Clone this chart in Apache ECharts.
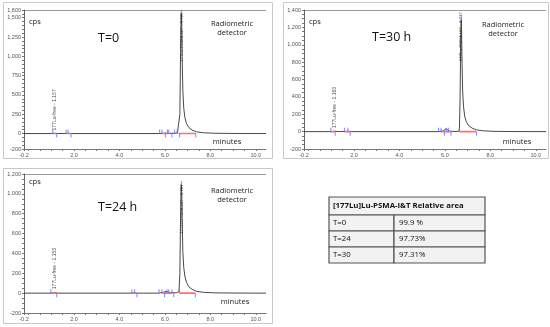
<!DOCTYPE html>
<html><head><meta charset="utf-8">
<script src="https://cdn.jsdelivr.net/npm/echarts@6/dist/echarts.min.js"></script>
<style>html,body{margin:0;padding:0;background:#fff}#c{width:550px;height:327px}</style>
</head><body><div id="c"></div>
<script>
// ---------- DATA ----------
// Panel A: T=0
const t0Time = [-0.2, 1.0, 1.1, 1.157, 1.25, 1.6, 1.75, 1.9, 5.7, 5.9, 6.05, 6.2, 6.4, 6.55, 6.62, 6.66, 6.69, 6.71, 6.725, 6.74, 6.76, 6.79, 6.83, 6.88, 6.95, 7.05, 7.2, 7.4, 7.7, 8.2, 9.0, 10.45];
const t0Cps  = [0, 0, 2, 6, 1, 0, 3, 0, 0, 3, 5, 2, 4, 6, 20, 250, 1050, 1480, 1550, 1380, 980, 560, 330, 210, 130, 80, 45, 22, 10, 4, 1, 0];
const t0MarksUp = [1.07, 1.65, 1.74, 5.77, 5.87, 6.11, 6.17, 6.43, 6.54];
const t0MarksDown = [1.24, 1.87, 6.02, 6.31, 6.65, 7.36];
const t0Red = [[1.07, 1.24], [1.65, 1.87], [5.87, 6.17], [6.6, 7.36]];
const t0FreeLabel = '177Lu-free - 1.157';
const t0FreeTime = 1.157;
const t0PeakLabel = '177Lu-PSMA-I&T - 6.723';
const t0PeakTime = 6.725;
const t0PeakCps = 1550;

// Panel B: T=30 h
const t30Time = [-0.2, 1.0, 1.163, 1.3, 1.65, 1.75, 1.9, 5.7, 5.85, 5.95, 6.05, 6.12, 6.2, 6.4, 6.6, 6.64, 6.67, 6.70, 6.717, 6.735, 6.755, 6.78, 6.82, 6.87, 6.94, 7.04, 7.2, 7.4, 7.7, 8.2, 9.0, 10.45];
const t30Cps  = [0, 0, 5, 0, 2, 3, 0, 0, 5, 12, 35, 15, 4, 2, 3, 30, 400, 1150, 1290, 1150, 800, 480, 290, 180, 115, 70, 40, 20, 9, 3, 1, 0];
const t30MarksUp = [0.98, 1.58, 1.73, 5.72, 5.83, 6.06, 6.17, 6.64];
const t30MarksDown = [1.17, 1.83, 5.98, 6.27, 7.39];
const t30Red = [[0.98, 1.17], [1.58, 1.83], [5.83, 6.27], [6.64, 7.39]];
const t30FreeLabel = '177Lu-free - 1.163';
const t30FreeTime = 1.163;
const t30PeakLabel = '177Lu-PSMA-I&T - 6.717';
const t30PeakTime = 6.717;
const t30PeakCps = 1290;

// Panel C: T=24 h
const t24Time = [-0.2, 1.0, 1.153, 1.3, 4.5, 4.6, 4.75, 5.7, 5.9, 6.05, 6.15, 6.3, 6.5, 6.62, 6.66, 6.69, 6.71, 6.727, 6.745, 6.765, 6.79, 6.83, 6.88, 6.95, 7.05, 7.2, 7.4, 7.7, 8.2, 9.0, 10.45];
const t24Cps  = [0, 0, 4, 0, 0, 3, 0, 0, 6, 18, 10, 5, 3, 15, 200, 750, 1020, 1090, 950, 680, 420, 260, 170, 110, 65, 38, 18, 8, 3, 1, 0];
const t24MarksUp = [0.98, 4.55, 4.67, 5.74, 5.87, 6.09, 6.17, 6.31, 6.64];
const t24MarksDown = [1.24, 4.77, 5.99, 6.39, 7.34];
const t24Red = [[0.98, 1.24], [4.55, 4.77], [5.87, 6.31], [6.64, 7.34]];
const t24FreeLabel = '177Lu-free - 1.153';
const t24FreeTime = 1.153;
const t24PeakLabel = '177Lu-PSMA-I&T - 6.727';
const t24PeakTime = 6.727;
const t24PeakCps = 1090;

// Axis ticks
const xTickLabels = [-0.2, 2.0, 4.0, 6.0, 8.0, 10.0];
const yLabelsA = [-200, 0, 250, 500, 750, 1000, 1250, 1500, 1600];
const yLabelsB = [-200, 0, 200, 400, 600, 800, 1000, 1200, 1400];
const yLabelsC = [-200, 0, 200, 400, 600, 800, 1000, 1200];

// Table
const tableHeader = '[177Lu]Lu-PSMA-I&T Relative area';
const tableRows = ['T=0', 'T=24', 'T=30'];
const tableValues = ['99.9 %', '97.73%', '97.31%'];

// Panel titles
const panelTitles = ['T=0', 'T=30 h', 'T=24 h'];

// ---------- LAYOUT ----------
const panels = [
  {time: t0Time, cps: t0Cps, up: t0MarksUp, down: t0MarksDown, red: t0Red, free: t0FreeLabel, freeT: t0FreeTime, peak: t0PeakLabel, peakT: t0PeakTime, peakC: t0PeakCps, ylab: yLabelsA, ymax: 1600,
   grid: {left: 24, top: 10, width: 242, height: 139}, box: [3, 2, 269, 156], peakLabelBase: 930, freeBase: 40},
  {time: t30Time, cps: t30Cps, up: t30MarksUp, down: t30MarksDown, red: t30Red, free: t30FreeLabel, freeT: t30FreeTime, peak: t30PeakLabel, peakT: t30PeakTime, peakC: t30PeakCps, ylab: yLabelsB, ymax: 1400,
   grid: {left: 304, top: 10, width: 242, height: 139}, box: [283, 2, 265, 156], peakLabelBase: 810, freeBase: 40},
  {time: t24Time, cps: t24Cps, up: t24MarksUp, down: t24MarksDown, red: t24Red, free: t24FreeLabel, freeT: t24FreeTime, peak: t24PeakLabel, peakT: t24PeakTime, peakC: t24PeakCps, ylab: yLabelsC, ymax: 1200,
   grid: {left: 24, top: 174, width: 242, height: 139}, box: [3, 168, 269, 155], peakLabelBase: 600, freeBase: 40}
];

const AX = '#555';
const FONT = 'Liberation Sans';
const TFONT = 'Open Sans';

const grids = [], xAxes = [], yAxes = [], series = [], graphics = [];
const xTicks = [-0.2];
for (let v = 0; v <= 10.01; v += 0.5) xTicks.push(Math.round(v * 10) / 10);

panels.forEach((p, i) => {
  grids.push(Object.assign({show: false}, p.grid));
  xAxes.push({
    type: 'value', gridIndex: i, min: -0.2, max: 10.45,
    axisLine: {show: true, onZero: false, lineStyle: {color: '#777', width: 1}},
    axisTick: {show: true, length: 2, customValues: xTicks, lineStyle: {color: '#777'}},
    axisLabel: {show: true, customValues: xTickLabels, fontSize: 5.5, color: AX, fontFamily: FONT, margin: 3,
      formatter: v => v.toFixed(1)},
    splitLine: {show: false}
  });
  const yt = [];
  for (let v = -200; v <= p.ymax; v += 50) yt.push(v);
  yAxes.push({
    type: 'value', gridIndex: i, min: -200, max: p.ymax,
    axisLine: {show: true, onZero: false, lineStyle: {color: '#666', width: 1}},
    axisTick: {show: true, length: 2, customValues: yt, lineStyle: {color: '#777'}},
    axisLabel: {show: true, customValues: p.ylab, fontSize: 5.5, color: AX, fontFamily: FONT, margin: 3,
      formatter: v => v.toLocaleString('en-US')},
    splitLine: {show: false}
  });
  // chromatogram trace
  series.push({
    type: 'line', xAxisIndex: i, yAxisIndex: i, showSymbol: false, silent: true,
    data: p.time.map((t, k) => [t, p.cps[k]]),
    lineStyle: {color: '#333', width: 0.9}, z: 3
  });
  // integration baselines (red)
  const redData = [];
  p.red.forEach(s => { redData.push([s[0], 0.5], [s[1], 0.5], [s[1], '-']); });
  series.push({
    type: 'line', xAxisIndex: i, yAxisIndex: i, showSymbol: false, silent: true, connectNulls: false,
    data: redData,
    lineStyle: {color: '#ff7070', width: 1.6}, z: 4
  });
  // blue markers
  series.push({
    type: 'scatter', xAxisIndex: i, yAxisIndex: i, silent: true,
    data: p.up.map(t => [t, 0]).concat([[p.peakT, p.peakC]]),
    symbol: 'rect', symbolSize: [1, 4], symbolOffset: [0, -2],
    itemStyle: {color: '#5d6bff'}, z: 5
  });
  series.push({
    type: 'scatter', xAxisIndex: i, yAxisIndex: i, silent: true,
    data: p.down.map(t => [t, 0]),
    symbol: 'rect', symbolSize: [1, 4], symbolOffset: [0, 2],
    itemStyle: {color: '#5d6bff'}, z: 5
  });
  // peak labels
  series.push({
    type: 'scatter', xAxisIndex: i, yAxisIndex: i, silent: true, symbolSize: 0,
    data: [
      {value: [p.freeT, p.freeBase], label: {formatter: p.free, fontSize: 5}},
      {value: [p.peakT, p.peakLabelBase], label: {formatter: p.peak, fontSize: 4.4}}
    ],
    label: {show: true, rotate: 90, position: [0, 0], align: 'left', verticalAlign: 'middle',
      color: '#222', fontFamily: FONT},
    z: 6
  });
  // panel frame
  graphics.push({type: 'rect', shape: {x: p.box[0] + 0.5, y: p.box[1] + 0.5, width: p.box[2], height: p.box[3]},
    style: {fill: 'none', stroke: '#c8c8c8', lineWidth: 1}, z: 0});
  // top border of plot
  graphics.push({type: 'line', shape: {x1: p.grid.left, y1: p.grid.top + 0.5, x2: p.grid.left + p.grid.width, y2: p.grid.top + 0.5},
    style: {stroke: '#999', lineWidth: 1}});
});

// annotations
const notes = [
  {cps: [29, 22], title: [98, 38], det: [232, 19], min: [227, 142]},
  {cps: [309, 22], title: [372, 37], det: [503, 20], min: [517, 142]},
  {cps: [29, 182], title: [98, 207], det: [232, 186], min: [235, 302]}
];
notes.forEach((n, i) => {
  graphics.push({type: 'text', x: n.cps[0], y: n.cps[1], style: {text: 'cps', font: '7.5px "' + TFONT + '"', fill: '#222', textVerticalAlign: 'middle'}});
  graphics.push({type: 'text', x: n.title[0], y: n.title[1], style: {text: panelTitles[i], font: '12.5px "' + TFONT + '"', fill: '#111', textVerticalAlign: 'middle'}});
  graphics.push({type: 'text', x: n.det[0], y: n.det[1], style: {text: 'Radiometric\ndetector', font: '7.5px "' + TFONT + '"', fill: '#222', textAlign: 'center', textVerticalAlign: 'top', lineHeight: 9.5}, });
  graphics.push({type: 'text', x: n.min[0], y: n.min[1], style: {text: 'minutes', font: '7.5px "' + TFONT + '"', fill: '#222', textAlign: 'center', textVerticalAlign: 'middle'}});
});

// table
const tb = {x: 329, y: 197, w: 156, col: 65, hh: 18, rh: 16};
graphics.push({type: 'rect', shape: {x: tb.x, y: tb.y, width: tb.w, height: tb.hh}, style: {fill: '#f2f2f2', stroke: '#555', lineWidth: 1.2}});
graphics.push({type: 'text', x: tb.x + 4, y: tb.y + tb.hh / 2, style: {text: tableHeader, font: 'bold 7.8px "' + TFONT + '"', fill: '#111', textVerticalAlign: 'middle'}});
tableRows.forEach((r, k) => {
  const y = tb.y + tb.hh + k * tb.rh;
  graphics.push({type: 'rect', shape: {x: tb.x, y: y, width: tb.col, height: tb.rh}, style: {fill: '#f2f2f2', stroke: '#555', lineWidth: 1.2}});
  graphics.push({type: 'rect', shape: {x: tb.x + tb.col, y: y, width: tb.w - tb.col, height: tb.rh}, style: {fill: '#f2f2f2', stroke: '#555', lineWidth: 1.2}});
  graphics.push({type: 'text', x: tb.x + 4, y: y + tb.rh / 2, style: {text: r, font: '7.8px "' + TFONT + '"', fill: '#111', textVerticalAlign: 'middle'}});
  graphics.push({type: 'text', x: tb.x + tb.col + 5, y: y + tb.rh / 2, style: {text: tableValues[k], font: '7.8px "' + TFONT + '"', fill: '#111', textVerticalAlign: 'middle'}});
});

const chart = echarts.init(document.getElementById('c'), null, {renderer: 'canvas'});
chart.setOption({
  animation: false,
  backgroundColor: '#fff',
  grid: grids, xAxis: xAxes, yAxis: yAxes, series: series,
  graphic: {elements: graphics}
});
</script></body></html>
